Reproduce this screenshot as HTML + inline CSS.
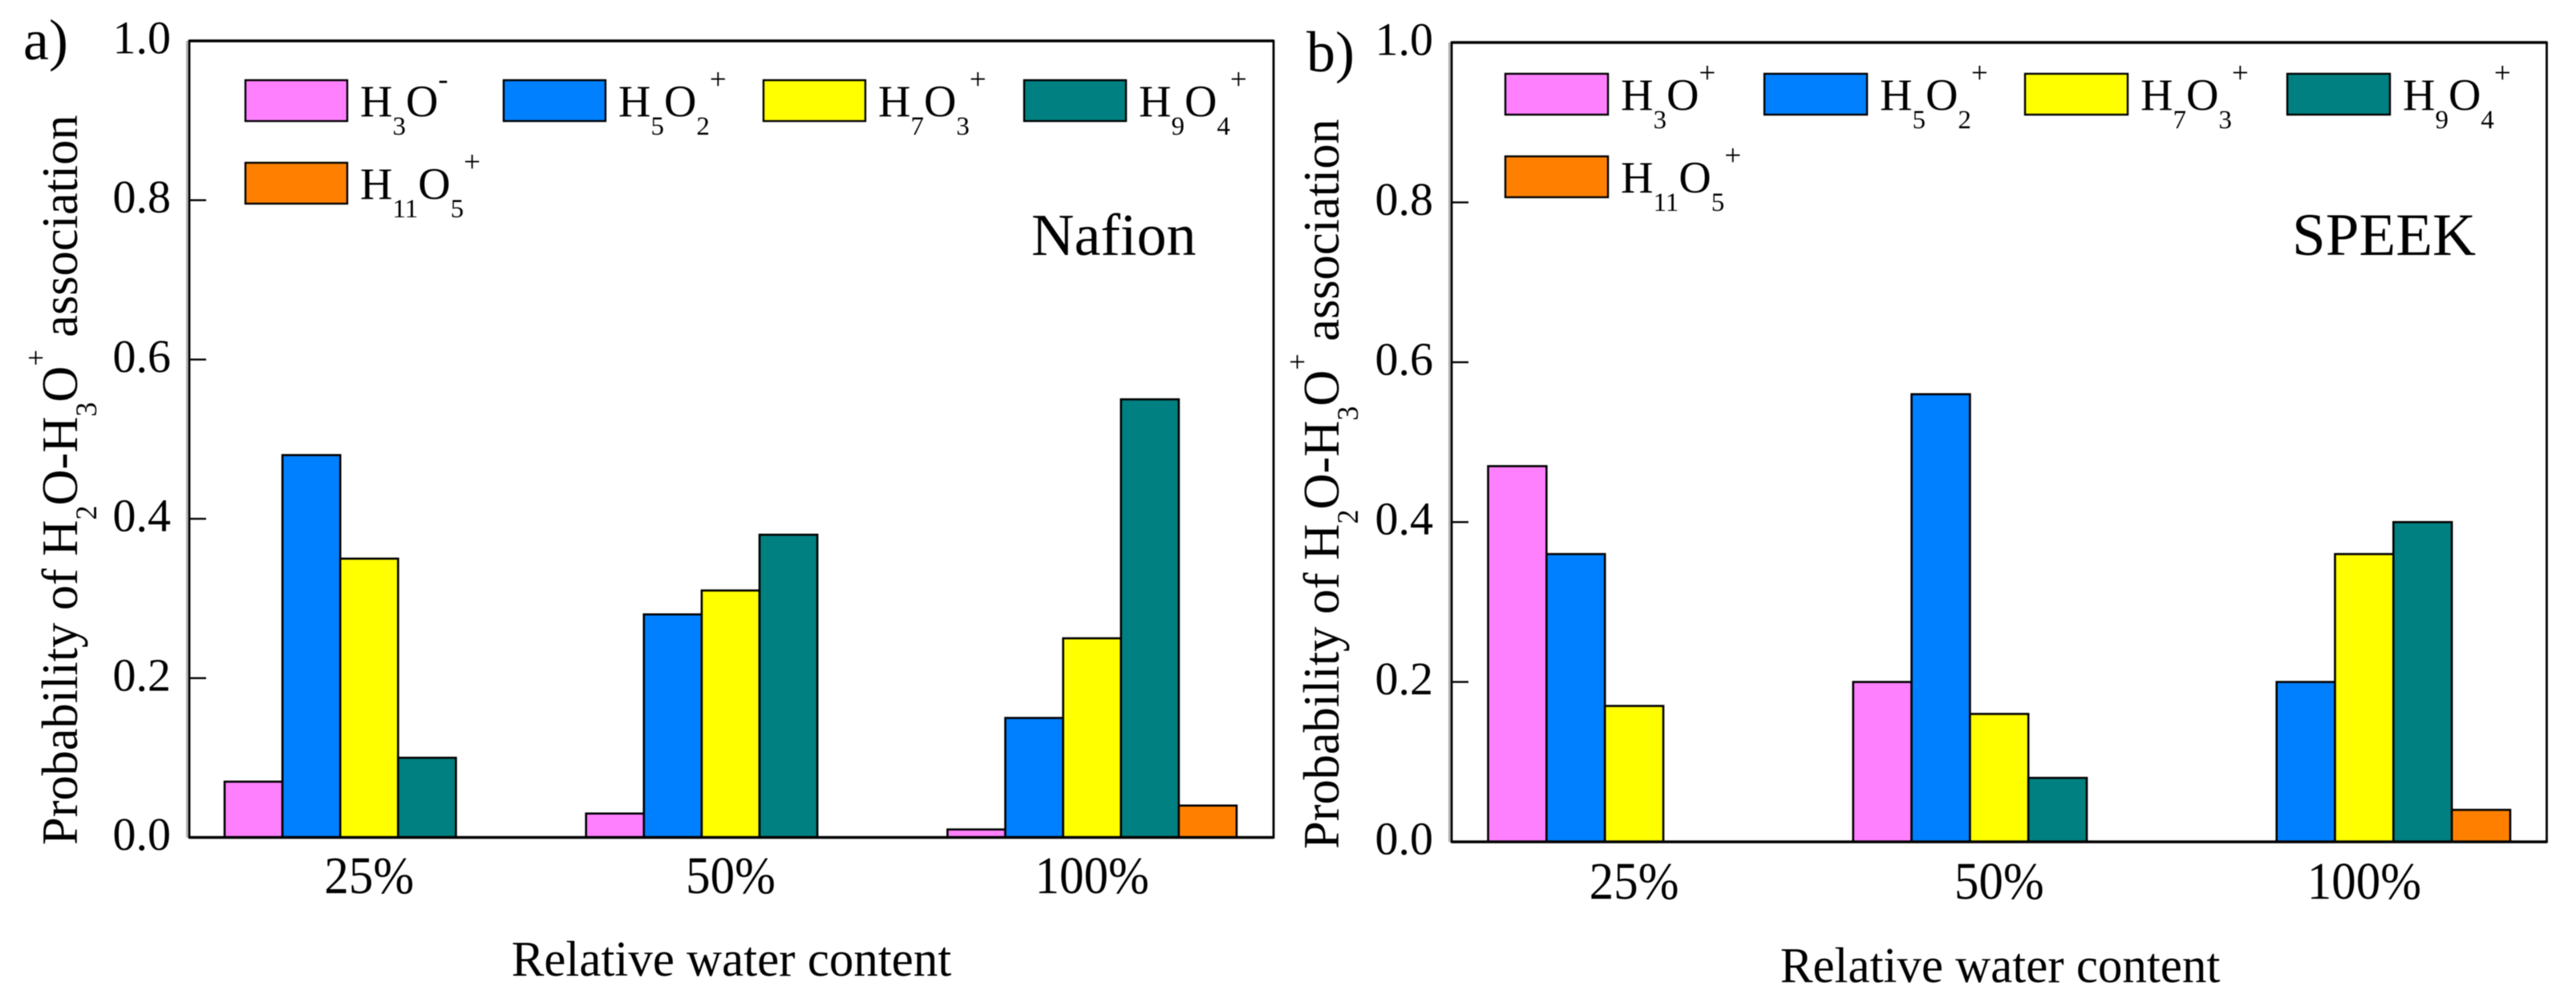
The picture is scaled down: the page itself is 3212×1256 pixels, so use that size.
<!DOCTYPE html>
<html lang="en">
<head>
<meta charset="utf-8">
<title>H2O-H3O+ association probability</title>
<style>
html,body{margin:0;padding:0;background:#fff;}
svg{display:block;filter:blur(0.5px);}
text{font-family:"Liberation Serif",serif;fill:#000;}
</style>
</head>
<body>
<svg id="figure" xmlns="http://www.w3.org/2000/svg" width="3212" height="1256" viewBox="0 0 3212 1256"></svg>
<script>
const categories = ['25%', '50%', '100%'];
const yTicks = [0, 0.2, 0.4, 0.6, 0.8, 1.0];
const seriesKeys = ['h3o', 'h5o2', 'h7o3', 'h9o4', 'h11o5'];
const seriesColors = ['#ff80ff', '#0080ff', '#ffff00', '#008080', '#ff8000'];

const nafionH3O = [0.07, 0.03, 0.01];
const nafionH5O2 = [0.48, 0.28, 0.15];
const nafionH7O3 = [0.35, 0.31, 0.25];
const nafionH9O4 = [0.10, 0.38, 0.55];
const nafionH11O5 = [0, 0, 0.04];

const speekH3O = [0.47, 0.20, 0];
const speekH5O2 = [0.36, 0.56, 0.20];
const speekH7O3 = [0.17, 0.16, 0.36];
const speekH9O4 = [0, 0.08, 0.40];
const speekH11O5 = [0, 0, 0.04];

const NS = 'http://www.w3.org/2000/svg';
const svg = document.getElementById('figure');

function make(tag, attrs, parent) {
  const el = document.createElementNS(NS, tag);
  for (const k in attrs) el.setAttribute(k, attrs[k]);
  parent.appendChild(el);
  return el;
}

// parts: [string, 'n' | 'sub' | 'sup']
function addRich(textEl, parts, sizes) {
  let prev = 0;
  parts.forEach(function (p) {
    const off = p[1] === 'sub' ? sizes.subDy : p[1] === 'sup' ? sizes.supDy : 0;
    const size = p[1] === 'sub' ? sizes.sub : p[1] === 'sup' ? sizes.sup : sizes.main;
    const t = make('tspan', { 'font-size': size, dy: off - prev }, textEl);
    t.textContent = p[0];
    prev = off;
  });
}

const legendSizes = { main: 56, sub: 33, sup: 37, subDy: 23, supDy: -34 };
const titleSizes = { main: 64, sub: 37, sup: 37, subDy: 24, supDy: -39 };

function legendParts(key, charge) {
  if (key === 'h3o') return [['H', 'n'], ['3', 'sub'], ['O', 'n'], [charge, 'sup']];
  if (key === 'h5o2') return [['H', 'n'], ['5', 'sub'], ['O', 'n'], ['2', 'sub'], ['+', 'sup']];
  if (key === 'h7o3') return [['H', 'n'], ['7', 'sub'], ['O', 'n'], ['3', 'sub'], ['+', 'sup']];
  if (key === 'h9o4') return [['H', 'n'], ['9', 'sub'], ['O', 'n'], ['4', 'sub'], ['+', 'sup']];
  return [['H', 'n'], ['11', 'sub'], ['O', 'n'], ['5', 'sub'], ['+', 'sup']];
}

function drawPanel(cfg) {
  const g = make('g', {}, svg);
  
  

  const band = (cfg.right - cfg.left) / categories.length;
  const barW = band * 0.16;
  const yScale = function (v) { return cfg.bottom - v * (cfg.bottom - cfg.top); };
  const xBand = function (i) { return cfg.left + band * (i + 0.5); };
  const xBar = function (i, s) { return xBand(i) + cfg.shift - 2.5 * barW + s * barW; };

  // bars
  cfg.series.forEach(function (values, s) {
    values.forEach(function (v, i) {
      const r = make('rect', {
        x: xBar(i, s), y: yScale(v), width: barW, height: yScale(0) - yScale(v),
        fill: seriesColors[s], stroke: '#000', 'stroke-width': 2.6
      }, g);
      
      
    });
  });

  // frame halo + frame
  const halo = make('line', { x1: cfg.left - 3, x2: cfg.left - 3, y1: cfg.top, y2: cfg.bottom, stroke: '#aaa', 'stroke-width': 2 }, g);
  
  
  const frame = make('rect', { x: cfg.left, y: cfg.top, width: cfg.right - cfg.left, height: cfg.bottom - cfg.top, fill: 'none', stroke: '#000', 'stroke-width': 2.8 }, g);
  
  
  const topLine = make('line', { x1: cfg.left, x2: cfg.right, y1: cfg.top, y2: cfg.top, stroke: '#000', 'stroke-width': 3.6 }, g);
  
  
  const bottomLine = make('line', { x1: cfg.left, x2: cfg.right, y1: cfg.bottom, y2: cfg.bottom, stroke: '#000', 'stroke-width': 3.6 }, g);
  
  

  // y ticks
  yTicks.forEach(function (t) {
    const py = yScale(t);
    if (t > 0 && t < 1) {
      const tick = make('line', { x1: cfg.left, x2: cfg.left + 21, y1: py, y2: py, stroke: '#000', 'stroke-width': 2.4 }, g);
      
      
    }
    const lab = make('text', { x: cfg.left - 23, y: py + 15.5, 'text-anchor': 'end', 'font-size': 58 }, g);
    
    
    lab.textContent = t.toFixed(1);
  });

  // x labels
  categories.forEach(function (c, i) {
    const lab = make('text', {
      transform: 'translate(' + (xBand(i) + cfg.shift) + ' ' + cfg.xLabelY + ') scale(1 1.07)',
      x: 0, y: 0, 'text-anchor': 'middle', 'font-size': 61
    }, g);
    
    
    lab.textContent = c;
  });

  // axis titles
  const xt = make('text', {
    transform: 'translate(' + cfg.xTitleX + ' ' + cfg.xTitleY + ') scale(1 1.03)',
    x: 0, y: 0, 'text-anchor': 'middle', 'font-size': 61
  }, g);
  
  
  xt.textContent = 'Relative water content';

  const yt = make('text', { transform: 'translate(' + cfg.yTitleX + ' ' + cfg.yTitleY + ') rotate(-90) scale(0.975 1)', x: 0, y: 0 }, g);
  
  
  addRich(yt, [['Probability of H', 'n'], ['2', 'sub'], ['O-H', 'n'], ['3', 'sub'], ['O', 'n'], ['+', 'sup'], [' association', 'n']], titleSizes);

  // legend
  cfg.legend.forEach(function (pos, s) {
    const sw = make('rect', { x: pos[0], y: pos[1], width: cfg.swatchW, height: cfg.swatchH, fill: seriesColors[s], stroke: '#000', 'stroke-width': 2.4 }, g);
    
    
    const lt = make('text', { x: pos[0] + cfg.swatchW + 16, y: pos[1] + cfg.swatchH - 6 }, g);
    
    
    addRich(lt, legendParts(seriesKeys[s], cfg.charge), legendSizes);
  });

  // panel letter + material
  const letter = make('text', { x: cfg.letterX, y: cfg.letterY, 'font-size': 72 }, g);
  
  
  letter.textContent = cfg.letter;

  const mat = make('text', { x: cfg.matX, y: cfg.matY, 'font-size': cfg.matSize }, g);
  
  
  mat.textContent = cfg.material;
}

drawPanel({
  id: 'nafion', letter: 'a)', material: 'Nafion', charge: '-',
  left: 236, right: 1588, top: 51, bottom: 1044.5, shift: -1,
  series: [nafionH3O, nafionH5O2, nafionH7O3, nafionH9O4, nafionH11O5],
  legend: [[306, 100], [628, 100], [952, 100], [1277, 100], [306, 203]],
  swatchW: 127, swatchH: 51,
  xLabelY: 1114, xTitleX: 912, xTitleY: 1217,
  yTitleX: 96, yTitleY: 1054,
  letterX: 29, letterY: 74, matX: 1286, matY: 318, matSize: 74
});

drawPanel({
  id: 'speek', letter: 'b)', material: 'SPEEK', charge: '+',
  left: 1810, right: 3175.5, top: 53, bottom: 1050, shift: 0,
  series: [speekH3O, speekH5O2, speekH7O3, speekH9O4, speekH11O5],
  legend: [[1877, 92], [2200, 92], [2525, 92], [2852, 92], [1877, 195]],
  swatchW: 128, swatchH: 51,
  xLabelY: 1121, xTitleX: 2494, xTitleY: 1225,
  yTitleX: 1669, yTitleY: 1059,
  letterX: 1629, letterY: 89, matX: 2858, matY: 318, matSize: 75
});
</script>
</body>
</html>
